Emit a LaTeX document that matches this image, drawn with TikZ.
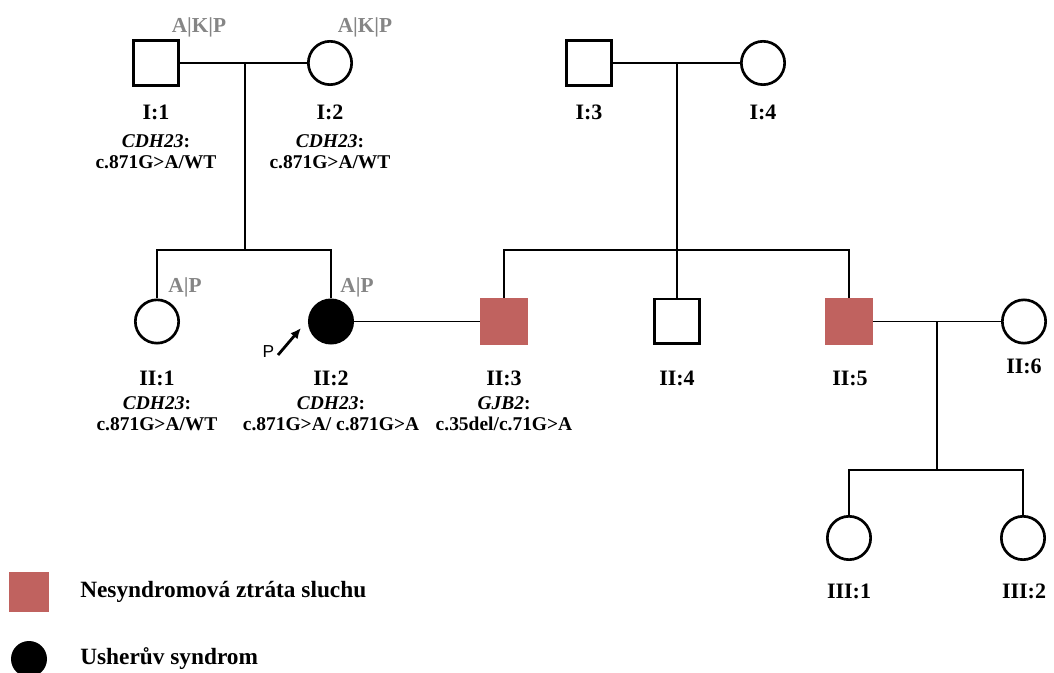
\documentclass[tikz,border=0pt]{standalone}
\usepackage{fontspec}
\setmainfont{Liberation Serif}
\setsansfont{Liberation Sans}
\usetikzlibrary{arrows.meta}
\definecolor{affected}{HTML}{C0625F}
\definecolor{tagc}{HTML}{858585}
\begin{document}
\begin{tikzpicture}[x=0.75pt,y=-0.75pt,
  male/.style={draw, line width=2pt, rectangle, minimum size=33.5pt, inner sep=0pt},
  female/.style={draw, line width=2pt, circle, minimum size=32.5pt, inner sep=0pt},
  hearing/.style={male, draw=affected, fill=affected},
  usher/.style={female, fill=black},
  link/.style={line width=1.3pt},
  pid/.style={font=\fontsize{16.5}{18}\selectfont\bfseries, inner sep=0pt},
  geno/.style={font=\fontsize{14.6}{16}\selectfont\bfseries, align=center, inner sep=0pt},
  tag/.style={font=\fontsize{16}{18}\selectfont\bfseries, text=tagc, inner sep=0pt},
  legendtext/.style={font=\fontsize{17.5}{20}\selectfont\bfseries, anchor=west, inner sep=0pt},
]
\useasboundingbox (0,0) rectangle (1054,673);

% generation I
\node[male]   (i1) at (156,63) {};
\node[female] (i2) at (330,63) {};
\node[male]   (i3) at (589,63) {};
\node[female] (i4) at (763,63) {};

% generation II
\node[female] (ii1) at (157,321.5) {};
\node[usher]  (ii2) at (331,321.5) {};
\node[hearing] (ii3) at (504,321.5) {};
\node[male]   (ii4) at (677,321.5) {};
\node[hearing] (ii5) at (849,321.5) {};
\node[female] (ii6) at (1024,321.5) {};

% generation III
\node[female] (iii1) at (849,538) {};
\node[female] (iii2) at (1023,538) {};

% marriage and descent lines
\coordinate (j12) at (245,63);
\coordinate (s12) at (245,250);
\coordinate (j34) at (677,63);
\coordinate (s34) at (677,250);
\coordinate (j56) at (937,321.5);
\coordinate (s56) at (937,470);

\draw[link] (i1) -- (i2);
\draw[link] (j12) -- (s12);
\draw[link] (ii1.north) |- (s12) -| (ii2.north);

\draw[link] (i3) -- (i4);
\draw[link] (j34) -- (ii4.north);
\draw[link] (ii3.north) |- (s34) -| (ii5.north);

\draw[link] (ii2) -- (ii3);
\draw[link] (ii5) -- (ii6);
\draw[link] (j56) -- (s56);
\draw[link] (iii1.north) |- (s56) -| (iii2.north);

% proband arrow
\node[font=\sffamily\fontsize{13}{14}\selectfont, inner sep=0pt] (pmark) at (268.5,352) {P};
\coordinate (ptail) at (278,355);
\coordinate (ptip) at (301,328);
\draw[line width=2.1pt, -{Latex[length=8pt,width=7pt]}] (ptail) -- (ptip);

% tested-sample tags
\node[tag] (t1) at (199,27) {A|K|P};
\node[tag] (t2) at (365,27) {A|K|P};
\node[tag] (t3) at (185,287) {A|P};
\node[tag] (t4) at (357,287) {A|P};

% identifiers
\node[pid] (l1) at (156,112) {I:1};
\node[pid] (l2) at (330,112) {I:2};
\node[pid] (l3) at (589,112) {I:3};
\node[pid] (l4) at (763,112) {I:4};
\node[pid] (l5) at (157,378) {II:1};
\node[pid] (l6) at (331,378) {II:2};
\node[pid] (l7) at (504,378) {II:3};
\node[pid] (l8) at (677,378) {II:4};
\node[pid] (l9) at (850,378) {II:5};
\node[pid] (l10) at (1024,366) {II:6};
\node[pid] (l11) at (849,591) {III:1};
\node[pid] (l12) at (1024,591) {III:2};

% genotypes
\node[geno] (g1) at (156,152) {\textit{CDH23}:\\c.871G>A/WT};
\node[geno] (g2) at (330,152) {\textit{CDH23}:\\c.871G>A/WT};
\node[geno] (g3) at (157,414) {\textit{CDH23}:\\c.871G>A/WT};
\node[geno] (g4) at (331,414) {\textit{CDH23}:\\c.871G>A/ c.871G>A};
\node[geno] (g5) at (504,414) {\textit{GJB2}:\\c.35del/c.71G>A};

% legend
\node[male, draw=affected, fill=affected, minimum size=27.75pt] (k1) at (29,592) {};
\node[circle, fill=black, minimum size=27pt, inner sep=0pt] (k2) at (29,659) {};
\node[legendtext] (k1t) at (80,592) {Nesyndromová ztráta sluchu};
\node[legendtext] (k2t) at (80,659) {Usherův syndrom};
\end{tikzpicture}
\end{document}
